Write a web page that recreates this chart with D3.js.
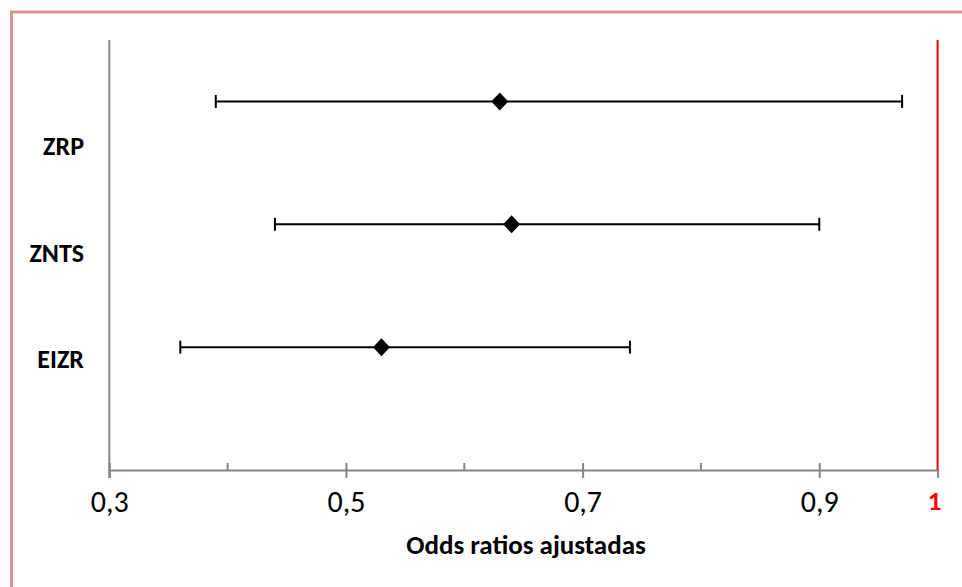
<!DOCTYPE html>
<html>
<head>
<meta charset="utf-8">
<script src="https://cdn.jsdelivr.net/npm/d3@7"></script>
<style>
  html, body { margin: 0; padding: 0; background: #fff; }
  svg { display: block; }
  text { font-family: Carlito, Calibri, Lato, "Open Sans", sans-serif; }
</style>
</head>
<body>
<svg id="chart" width="962" height="587"></svg>
<script>
// Adjusted odds ratios with 95% confidence intervals
const categories = ["ZRP", "ZNTS", "EIZR"];
const oddsRatio  = [0.63, 0.64, 0.53];
const ciLower    = [0.39, 0.44, 0.36];
const ciUpper    = [0.97, 0.90, 0.74];
const rowValue   = [3, 2, 1];
const xTicks     = [0.3, 0.5, 0.7, 0.9];
const xMinor     = [0.4, 0.6, 0.8];
const refValue   = 1;
const xTitle     = "Odds ratios ajustadas";

const svg = d3.select("#chart");

// chart frame
svg.append("rect")
  .attr("x", 11.5).attr("y", 12)
  .attr("width", 1200).attr("height", 1200)
  .attr("fill", "none")
  .attr("stroke", "#d99594")
  .attr("stroke-width", 3);

const plot = { left: 109.3, right: 937.6, top: 40, bottom: 470 };

const x = d3.scaleLinear().domain([0.3, 1]).range([plot.left, plot.right]);
const y = d3.scaleLinear().domain([0, 3.5]).range([plot.bottom, plot.top]);
const yLabel = d3.scalePoint().domain(categories).range([146, 359]);

const axisColor = "#868686";

// vertical axis line
svg.append("line")
  .attr("x1", x(0.3)).attr("x2", x(0.3))
  .attr("y1", plot.top).attr("y2", plot.bottom + 8)
  .attr("stroke", axisColor).attr("stroke-width", 2);

// horizontal axis with major tick labels
const xAxis = svg.append("g")
  .attr("transform", `translate(0,${plot.bottom})`)
  .call(d3.axisBottom(x).tickValues(xTicks).tickSize(8).tickPadding(0)
    .tickFormat(d => d3.format(".1f")(d).replace(".", ",")));
xAxis.select(".domain").attr("stroke", axisColor).attr("stroke-width", 2);
xAxis.selectAll(".tick line")
  .attr("stroke", axisColor).attr("stroke-width", 2)
  .attr("y1", -7);
xAxis.selectAll(".tick text")
  .attr("y", 42).attr("dy", null)
  .attr("fill", "#000")
  .attr("font-size", 30);

// minor ticks, inside only
svg.append("g").selectAll("line").data(xMinor).join("line")
  .attr("x1", d => x(d)).attr("x2", d => x(d))
  .attr("y1", plot.bottom - 7).attr("y2", plot.bottom)
  .attr("stroke", axisColor).attr("stroke-width", 2);

// reference line at OR = 1
svg.append("line")
  .attr("x1", x(refValue)).attr("x2", x(refValue))
  .attr("y1", plot.top).attr("y2", plot.bottom)
  .attr("stroke", "#ff0000").attr("stroke-width", 2);
svg.append("text")
  .attr("x", x(refValue) - 3).attr("y", plot.bottom + 40)
  .attr("text-anchor", "middle")
  .attr("fill", "#ff0000")
  .attr("font-weight", "bold")
  .attr("font-size", 27)
  .text(refValue);

// category labels
svg.append("g").selectAll("text").data(categories).join("text")
  .attr("x", 84).attr("y", d => yLabel(d))
  .attr("dy", "0.35em")
  .attr("text-anchor", "end")
  .attr("font-weight", "bold")
  .attr("font-size", 26)
  .attr("fill", "#000")
  .text(d => d);

// confidence intervals
const rows = categories.map((c, i) => ({
  c, or: oddsRatio[i], lo: ciLower[i], hi: ciUpper[i], v: rowValue[i]
}));
const g = svg.append("g");
g.selectAll("line.ci").data(rows).join("line")
  .attr("class", "ci")
  .attr("x1", d => x(d.lo)).attr("x2", d => x(d.hi))
  .attr("y1", d => y(d.v)).attr("y2", d => y(d.v))
  .attr("stroke", "#000").attr("stroke-width", 2);
["lo", "hi"].forEach(k => {
  g.selectAll(`line.cap-${k}`).data(rows).join("line")
    .attr("class", `cap-${k}`)
    .attr("x1", d => x(d[k])).attr("x2", d => x(d[k]))
    .attr("y1", d => y(d.v) - 6.5).attr("y2", d => y(d.v) + 6.5)
    .attr("stroke", "#000").attr("stroke-width", 2);
});

// point estimates as diamonds
g.selectAll("path.pt").data(rows).join("path")
  .attr("class", "pt")
  .attr("transform", d => `translate(${x(d.or)},${y(d.v)})`)
  .attr("d", "M0,-9L8.5,0L0,9L-8.5,0Z")
  .attr("fill", "#000");

// axis title
svg.append("text")
  .attr("x", 526).attr("y", 554)
  .attr("text-anchor", "middle")
  .attr("font-weight", "bold")
  .attr("font-size", 27)
  .attr("fill", "#000")
  .text(xTitle);
</script>
</body>
</html>
